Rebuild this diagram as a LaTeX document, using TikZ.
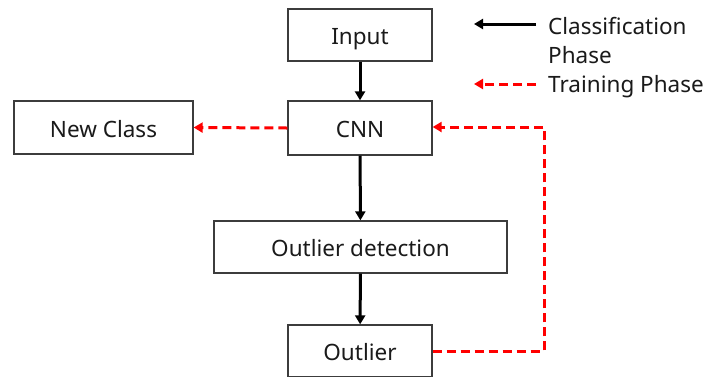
\documentclass[tikz,border=0pt]{standalone}
\usepackage{fontspec}
\setmainfont{Noto Sans}
\usetikzlibrary{arrows.meta}
\definecolor{txt}{HTML}{1A1A1A}
\definecolor{bord}{HTML}{3C3C3C}
\begin{document}
\begin{tikzpicture}[x=1pt,y=-1pt,
  box/.style={draw=bord,line width=1.3pt,rectangle,inner sep=0pt,text=txt,text height=19pt,text depth=0pt,font=\fontsize{22.5}{26}\selectfont},
  cls/.style={line width=3pt,black,-{Triangle[length=9pt,width=10pt]}},
  trn/.style={line width=3pt,red,dash pattern=on 9pt off 5pt,-{Triangle[length=9pt,width=10pt]}},
  leg/.style={text=txt,font=\fontsize{22.5}{29}\selectfont,anchor=west,inner sep=0pt,align=left}]
\useasboundingbox (0,0) rectangle (706,376);
\clip (0,0) rectangle (706,376);
\node[box,minimum width=144pt,minimum height=52pt] (input) at (360,35) {Input};
\node[box,minimum width=144pt,minimum height=54pt] (cnn) at (360,128) {CNN};
\node[box,minimum width=179pt,minimum height=53pt] (newc) at (103.5,127.5) {New Class};
\node[box,minimum width=293pt,minimum height=52pt] (od) at (360.5,247) {Outlier detection};
\node[box,minimum width=144pt,minimum height=52pt] (out) at (360,351) {Outlier};
\draw[cls] (input) -- (cnn);
\draw[cls] (cnn) -- (od);
\draw[cls] (od) -- (out);
\draw[trn] (cnn.west) -- (newc.east);
\coordinate (c1) at (544,351);
\coordinate (c2) at (544,127);
\draw[trn] (out.east) -- (c1) -- (c2) -- (cnn.east |- c2);
% legend
\coordinate (l1a) at (536,24);
\coordinate (l1b) at (474,24);
\coordinate (l2a) at (536,84);
\coordinate (l2b) at (474,84);
\draw[cls] (l1a) -- (l1b);
\draw[trn] (l2a) -- (l2b);
\node[leg] (lc) at (548,41) {Classification\\Phase};
\node[leg] (lt) at (548,86.5) {Training Phase};
\end{tikzpicture}
\end{document}
